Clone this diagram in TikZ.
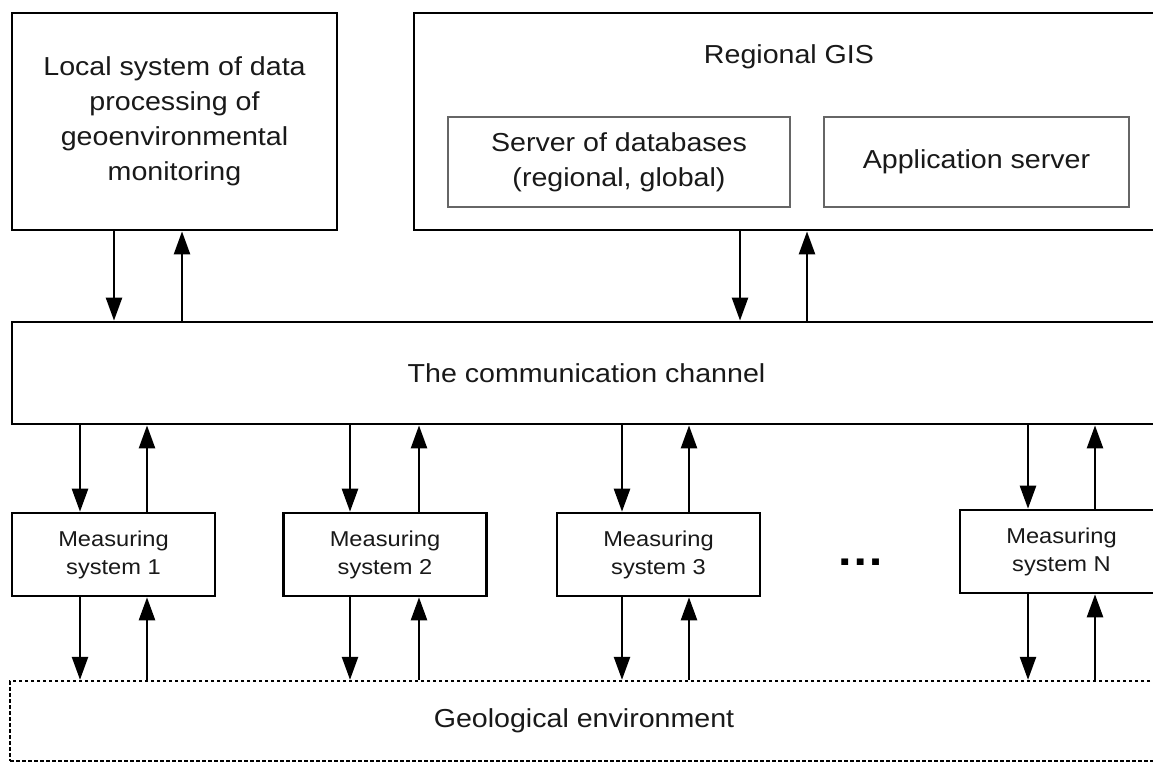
\documentclass[tikz,border=0pt]{standalone}
\usepackage{fontspec}
\setmainfont{Liberation Sans}[FakeStretch=1.1]
\usetikzlibrary{arrows.meta}

\begin{document}
\begin{tikzpicture}[x=1pt,y=-1pt,
  every node/.append style={text=black!90},
  box/.style={draw=black, line width=2.8pt, rectangle, inner sep=0pt, align=center},
  inbox/.style={draw=black!60, line width=2.2pt, rectangle, inner sep=0pt, align=center},
  msbox/.style={draw=black, line width=2.6pt, rectangle, inner sep=0pt, align=center,
    minimum width=203pt, minimum height=83pt, font=\fontsize{21.5}{28}\selectfont},
  envbox/.style={draw=black, line width=2.4pt, dash pattern=on 3.5pt off 2.5pt,
    rectangle, inner sep=0pt, align=center},
  big/.style={font=\fontsize{26}{35}\selectfont},
  link/.style={line width=2.5pt, draw=black, -{Triangle[length=23pt,width=16pt]}},
]
\useasboundingbox (0,0) rectangle (1153,763);
\fill[white] (0,0) rectangle (1153,763);
\clip (0,0) rectangle (1153,763);

% upper level
\node[box,big,minimum width=325pt,minimum height=217pt] (local) at (174.5,121.5)
  {Local system of data\\processing of\\geoenvironmental\\monitoring};
\node[box,minimum width=750pt,minimum height=217pt] (gis) at (789,121.5) {};
\node[big,anchor=base] (gistitle) at (789,63) {Regional GIS};
\node[inbox,big,minimum width=342pt,minimum height=90pt] (db) at (619,162)
  {Server of databases\\(regional, global)};
\node[inbox,big,minimum width=305pt,minimum height=90pt] (app) at (976.5,162)
  {Application server};

% channel
\node[box,big,minimum width=1149pt,minimum height=102pt] (chan) at (586.5,373)
  {The communication channel};

% measuring systems
\node[msbox] (ms1) at (113.5,554.5) {Measuring\\system 1};
\node[msbox] (ms2) at (385,554.5) {Measuring\\system 2};
\node[msbox] (ms3) at (658.5,554.5) {Measuring\\system 3};
\node[msbox] (msN) at (1061.5,551.5) {Measuring\\system N};
\node[font=\fontsize{44}{44}\selectfont\bfseries, text=black, inner sep=0pt] (dots) at (861,562) {…};

% environment
\node[envbox,big,minimum width=1148pt,minimum height=80pt] (geo) at (584,721)
  {Geological environment};

% links to the channel from above
\coordinate (xl-d) at (114,0);
\coordinate (xl-u) at (182,0);
\coordinate (xg-d) at (740,0);
\coordinate (xg-u) at (807,0);
\draw[link] (local.south -| xl-d) -- (chan.north -| xl-d);
\draw[link] (chan.north -| xl-u) -- (local.south -| xl-u);
\draw[link] (gis.south -| xg-d) -- (chan.north -| xg-d);
\draw[link] (chan.north -| xg-u) -- (gis.south -| xg-u);

% links of each measuring system
\foreach \dx/\ux/\m in {80/147/ms1, 350/419/ms2, 622/689/ms3, 1028/1095/msN} {
  \coordinate (x-\m-d) at (\dx,0);
  \coordinate (x-\m-u) at (\ux,0);
  \draw[link] (chan.south -| x-\m-d) -- (\m.north -| x-\m-d);
  \draw[link] (\m.north -| x-\m-u) -- (chan.south -| x-\m-u);
  \draw[link] (\m.south -| x-\m-d) -- (geo.north -| x-\m-d);
  \draw[link] (geo.north -| x-\m-u) -- (\m.south -| x-\m-u);
}
\end{tikzpicture}
\end{document}
